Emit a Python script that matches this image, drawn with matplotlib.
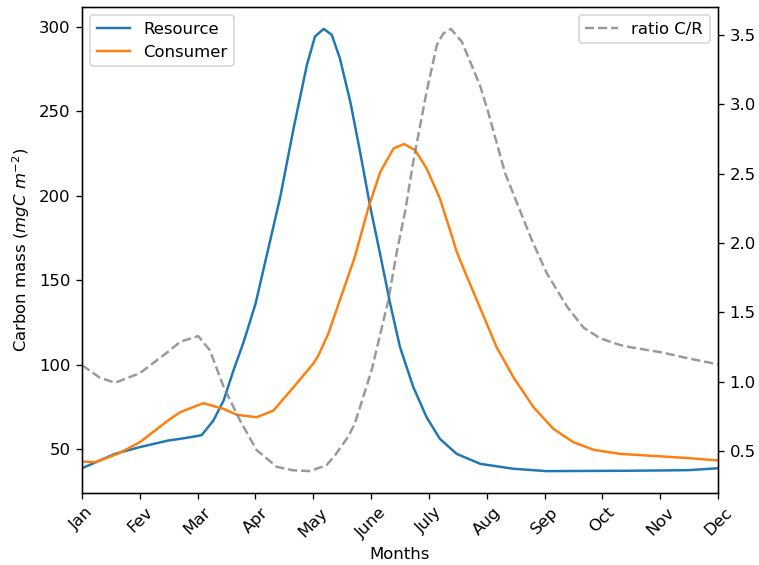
import matplotlib
matplotlib.use("Agg")
from matplotlib import pyplot as plt


DPI = 118.6
MONTH_LABELS = ["Jan", "Fev", "Mar", "Apr", "May", "June",
                "July", "Aug", "Sep", "Oct", "Nov", "Dec"]

# values (x in months from Jan = 0)
res_x = [0, 0.57, 1.0, 1.49, 1.7, 2.0, 2.07, 2.27, 2.45, 2.62, 2.79, 3.0,
         3.43, 3.66, 3.89, 4.03, 4.18, 4.32, 4.46, 4.64, 4.81, 4.98, 5.16, 5.33,
         5.5, 5.73, 5.96, 6.19, 6.48, 6.89, 7.46, 8.04, 8.62, 9.31, 10.03, 10.5, 11.0]
res_y = [38.9, 47.4, 51.4, 55.3, 56.3, 58.0, 58.5, 67.0, 79.0, 96.8, 113.0, 136.0,
         199.5, 240.0, 277.5, 294.3, 298.8, 295.3, 281.4, 255.8, 226.0, 194.5, 165.0, 136.3,
         110.6, 86.9, 69.1, 56.3, 47.4, 41.5, 38.6, 37.2, 37.3, 37.4, 37.6, 37.8, 38.9]

con_x = [0, 0.23, 0.63, 1.0, 1.49, 1.7, 2.1, 2.45, 2.68, 3.02, 3.31, 3.66,
         4.0, 4.09, 4.26, 4.38, 4.72, 4.95, 5.16, 5.39, 5.57, 5.76, 5.96, 6.19,
         6.4, 6.48, 6.66, 6.89, 7.17, 7.46, 7.81, 8.15, 8.5, 8.85, 9.31, 10.03,
         10.49, 11.0]
con_y = [42.9, 42.5, 47.6, 54.3, 67.2, 72.1, 77.4, 74.0, 70.5, 69.1, 73.0, 86.9,
         100.8, 105.7, 118.5, 130.4, 164.0, 192.6, 214.3, 228.1, 230.7, 227.1, 216.3, 198.5,
         176.0, 167.0, 152.0, 133.4, 110.6, 92.8, 75.0, 62.3, 54.3, 49.8, 47.4, 45.9,
         44.9, 43.5]

ratio_x = [0, 0.3, 0.57, 1.0, 1.49, 1.7, 2.01, 2.21, 2.45, 2.73, 3.02, 3.37, 3.65,
           3.94, 4.23, 4.38, 4.6, 4.72, 5.01, 5.3, 5.44, 5.59, 5.73, 5.96, 6.14, 6.25,
           6.38, 6.57, 6.74, 6.89, 7.02, 7.32, 7.78, 8.04, 8.39, 8.67, 8.96, 9.31,
           9.45, 10.03, 10.49, 11.0]
ratio_y = [1.119, 1.03, 0.991, 1.06, 1.215, 1.287, 1.328, 1.227, 0.962, 0.722, 0.506, 0.385,
           0.36, 0.354, 0.397, 0.47, 0.6, 0.698, 1.083, 1.588, 1.925, 2.23, 2.586, 3.09,
           3.43, 3.51, 3.543, 3.45, 3.28, 3.127, 2.95, 2.50, 2.02, 1.78, 1.54, 1.39,
           1.312, 1.263, 1.25, 1.21, 1.167, 1.124]


def main():
    fig, ax = plt.subplots(figsize=(759 / DPI, 565 / DPI), dpi=DPI)
    fig.subplots_adjust(left=0.108, right=0.946, top=0.988, bottom=0.127)

    ax.plot(res_x, res_y, color="#1f77b4", label="Resource")
    ax.plot(con_x, con_y, color="#ff7f0e", label="Consumer")
    ax.set_xlim(0, 11)
    ax.set_xticks(range(12))
    ax.set_xticklabels(MONTH_LABELS, rotation=45)
    ax.set_xlabel("Months")
    ax.set_ylabel(r"Carbon mass ($mgC\ m^{-2}$)")
    ax.legend(loc="upper left")

    ax2 = ax.twinx()
    ax2.plot(ratio_x, ratio_y, color="gray", alpha=0.8, linestyle="--", label="ratio C/R")
    ax2.legend(loc="upper right")

    fig.savefig("out.png", dpi=DPI)
    plt.close(fig)


if __name__ == "__main__":
    main()
